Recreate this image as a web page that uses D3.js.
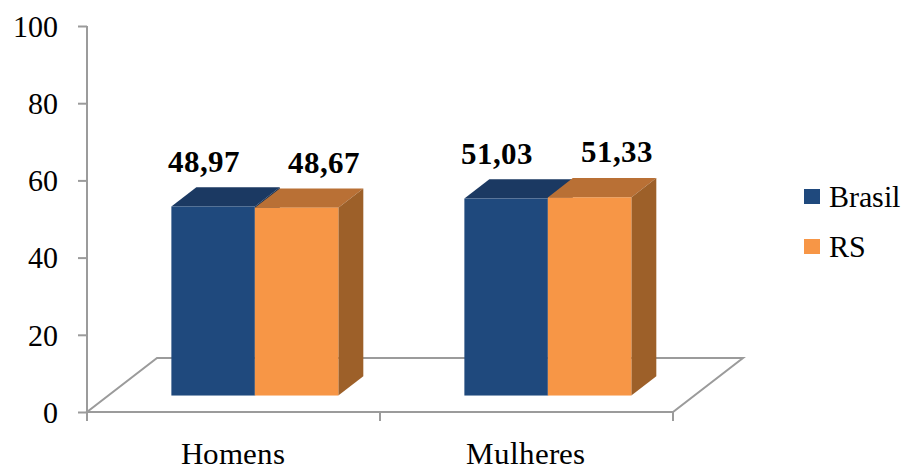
<!DOCTYPE html>
<html>
<head>
<meta charset="utf-8">
<script src="https://cdn.jsdelivr.net/npm/d3@7"></script>
<style>
@font-face { font-family: 'RefSerif'; src: local('Liberation Serif'), local('LiberationSerif'), local('Tinos'), local('Times New Roman'); font-weight: normal; }
@font-face { font-family: 'RefSerif'; src: local('Liberation Serif Bold'), local('LiberationSerif-Bold'), local('Tinos Bold'); font-weight: bold; }
html,body{margin:0;padding:0;background:#fff;}
svg{display:block;}
</style>
</head>
<body>
<svg id="chart" width="905" height="471"></svg>
<script>
const categories = ["Homens", "Mulheres"];
const series = ["Brasil", "RS"];
const brasilValues = [48.97, 51.03];
const rsValues = [48.67, 51.33];
const yTicks = [0, 20, 40, 60, 80, 100];

const values = [brasilValues, rsValues];
const labelFmt = v => v.toFixed(2).replace(".", ",");
const FONT = "RefSerif, 'Liberation Serif', Tinos, serif";

const svg = d3.select("#chart");

const x0 = 87, x1 = 673, yBase = 412, yTop = 26;
const depth = {dx: 70, dy: -54};
const barFrontT = 0.305, barDepthT = 0.357;

const y = d3.scaleLinear().domain([0, 100]).range([yBase, yTop]);
const xCat = d3.scaleBand().domain(categories).range([x0, x1]);
const xSer = d3.scaleBand().domain(series).range([0, xCat.bandwidth()]).paddingInner(0).paddingOuter(0.755);

const front = {
  Brasil: {face: "#1F497D", top: "#1B3962", side: "#173152"},
  RS: {face: "#F79646", top: "#B97035", side: "#9D6029"}
};

const axisColor = "#9b9b9b";

function serif(sel, size, bold) {
  sel.attr("font-family", FONT).style("font-family", FONT)
     .style("font-size", size + "px").attr("fill", "#000");
  if (bold) sel.style("font-weight", "bold");
  return sel;
}

// floor
const floor = [[x0, yBase], [x1, yBase], [x1 + depth.dx, yBase + depth.dy], [x0 + depth.dx, yBase + depth.dy]];
svg.append("polygon")
  .attr("points", floor.map(p => p.join(",")).join(" "))
  .attr("fill", "none").attr("stroke", axisColor).attr("stroke-width", 2);

// y axis
const yAxis = d3.axisLeft(y).tickValues(yTicks).tickSize(9).tickPadding(20).tickFormat(d3.format("d"));
const gy = svg.append("g").attr("transform", `translate(${x0},0)`).call(yAxis);
gy.attr("font-family", FONT).attr("font-size", null);
gy.select(".domain").attr("stroke", axisColor).attr("stroke-width", 2).attr("d", `M0,${yTop}V${yBase + 9}`);
gy.selectAll(".tick line").attr("stroke", axisColor).attr("stroke-width", 2);
serif(gy.selectAll(".tick text"), 30).attr("dy", "0.34em");

// category axis ticks and labels
const catTicks = [x0].concat(categories.map(c => xCat(c) + xCat.bandwidth()));
svg.selectAll(".cattick").data(catTicks).join("line")
  .attr("x1", d => d).attr("x2", d => d).attr("y1", yBase).attr("y2", yBase + 9)
  .attr("stroke", axisColor).attr("stroke-width", 2);
serif(svg.selectAll(".catlabel").data(categories).join("text")
  .attr("x", d => xCat(d) + xCat.bandwidth() / 2 - 1).attr("y", 464)
  .attr("text-anchor", "middle"), 31).text(d => d);

// bars
const fdx = depth.dx * barFrontT, fdy = depth.dy * barFrontT;
const bdx = depth.dx * barDepthT, bdy = depth.dy * barDepthT;
const bars = [];
categories.forEach((c, ci) => {
  series.forEach((s, si) => {
    bars.push({c, s, si, v: values[si][ci]});
  });
});

const g = svg.append("g");
bars.forEach(b => {
  const xl = xCat(b.c) + xSer(b.s) + fdx;
  const xr = xl + xSer.bandwidth();
  const yb = yBase + fdy;
  const yt = yb - (y(0) - y(b.v));
  const col = front[b.s];
  g.append("polygon")
    .attr("points", [[xl, yt], [xl + bdx, yt + bdy], [xr + bdx, yt + bdy], [xr, yt]].map(p => p.join(",")).join(" "))
    .attr("fill", col.top);
  g.append("polygon")
    .attr("points", [[xr, yt], [xr + bdx, yt + bdy], [xr + bdx, yb + bdy], [xr, yb]].map(p => p.join(",")).join(" "))
    .attr("fill", col.side);
  g.append("rect").attr("x", xl).attr("y", yt).attr("width", xr - xl).attr("height", yb - yt)
    .attr("fill", col.face);
  b.fx = (xl + xr) / 2; b.yt = yt;
});
// value labels
const labelShift = {Brasil: -9, RS: 27};
serif(svg.selectAll(".vlabel").data(bars).join("text")
  .attr("x", d => d.fx + labelShift[d.s]).attr("y", d => d.yt - 35)
  .attr("text-anchor", "middle"), 31, true)
  .text(d => labelFmt(d.v));

// legend
const leg = svg.append("g");
series.forEach((s, i) => {
  const yy = 189 + i * 50;
  leg.append("rect").attr("x", 804).attr("y", yy).attr("width", 16).attr("height", 15).attr("fill", front[s].face);
  serif(leg.append("text").attr("x", 829).attr("y", yy + 18), 30).text(s);
});
</script>
</body>
</html>
